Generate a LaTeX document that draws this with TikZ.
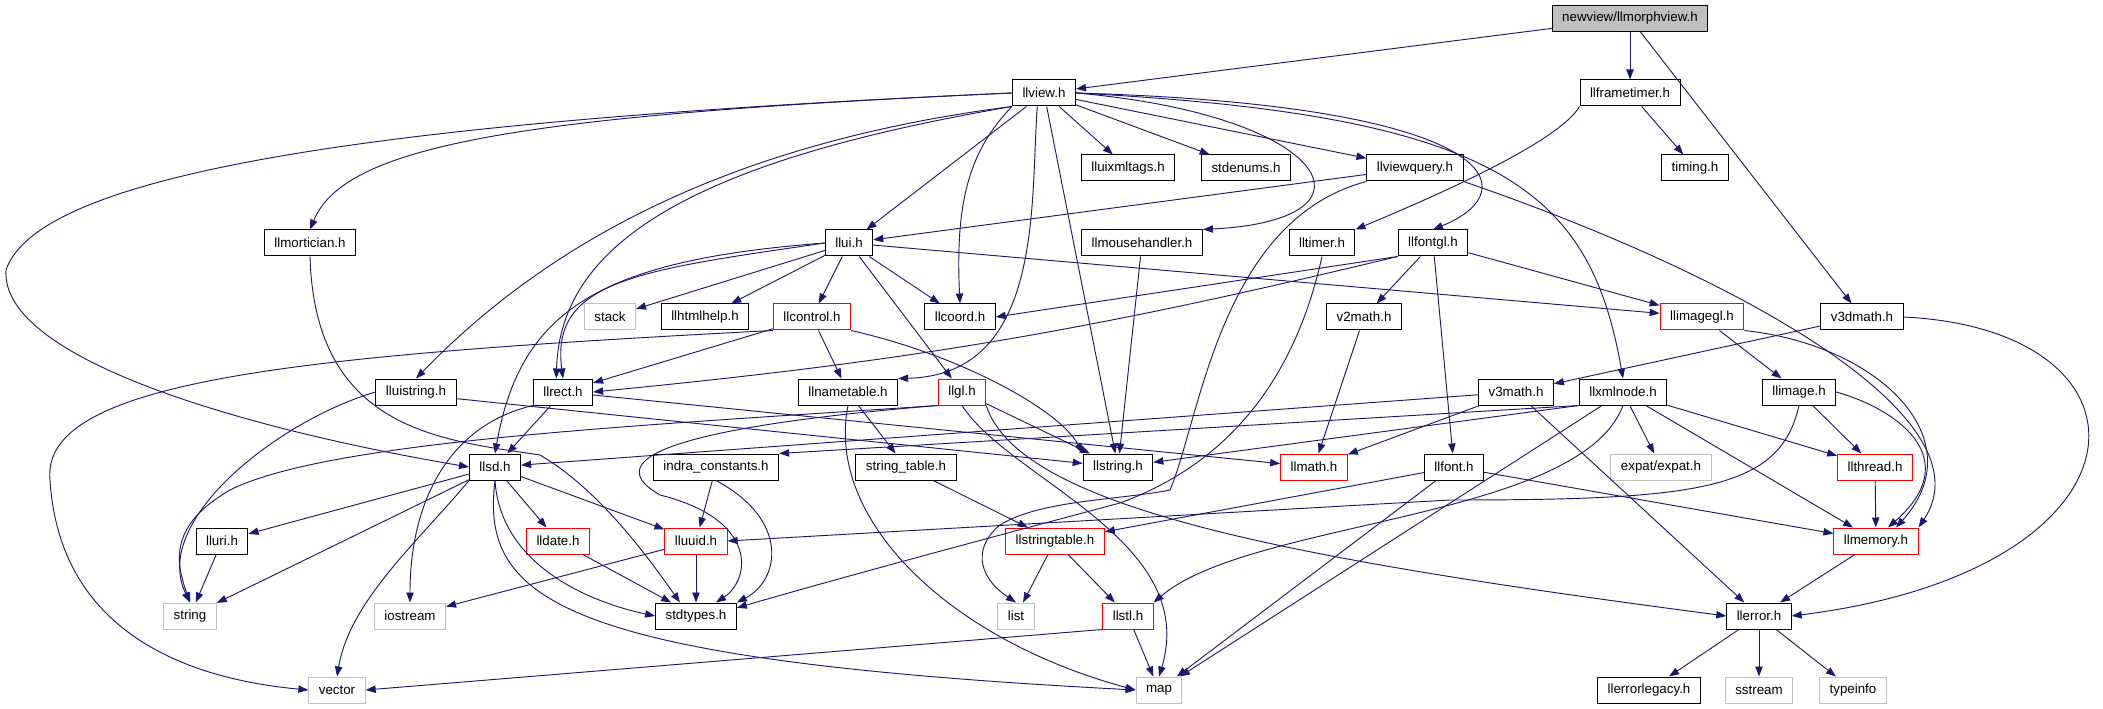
\documentclass[tikz,border=0pt]{standalone}
\usepackage{fontspec}
\setmainfont{Liberation Sans}
\usetikzlibrary{arrows.meta}
\definecolor{edgeblue}{HTML}{191970}
\definecolor{sysgray}{HTML}{BFBFBF}
\tikzset{
  hdr/.style={draw=black, line width=0.75pt, inner xsep=7.5pt, minimum height=19.5pt, font=\fontsize{10}{12}\selectfont},
  redhdr/.style={hdr, draw=red},
  syshdr/.style={hdr, draw=sysgray},
  roothdr/.style={hdr, fill=sysgray},
  dep/.style={draw=edgeblue, line width=0.7pt, -{Triangle[length=7.5pt,width=5.5pt]}}
}
\begin{document}
\begin{tikzpicture}[x=0.75pt, y=-0.75pt]
  \useasboundingbox (0,0) rectangle (2103,709);
  \node[roothdr] (morph) at (1630,18.5) {newview/llmorphview.h};
  \node[hdr] (view) at (1044,93) {llview.h};
  \node[hdr] (frametimer) at (1630,93) {llframetimer.h};
  \node[hdr] (uixmltags) at (1128,168) {lluixmltags.h};
  \node[hdr] (stdenums) at (1246,168) {stdenums.h};
  \node[hdr] (viewquery) at (1415,168) {llviewquery.h};
  \node[hdr] (timing) at (1695,168) {timing.h};
  \node[hdr] (mortician) at (310,243) {llmortician.h};
  \node[hdr] (ui) at (849,243) {llui.h};
  \node[hdr] (mousehandler) at (1142,243) {llmousehandler.h};
  \node[hdr] (timer) at (1322,243) {lltimer.h};
  \node[hdr] (fontgl) at (1433,243) {llfontgl.h};
  \node[syshdr] (stack) at (610,317) {stack};
  \node[hdr] (htmlhelp) at (705,317) {llhtmlhelp.h};
  \node[redhdr] (control) at (812,317) {llcontrol.h};
  \node[hdr] (coord) at (960,317) {llcoord.h};
  \node[hdr] (vtwomath) at (1364,317) {v2math.h};
  \node[redhdr] (imagegl) at (1702,317) {llimagegl.h};
  \node[hdr] (vthreedmath) at (1862,317) {v3dmath.h};
  \node[hdr] (uistring) at (416,392) {lluistring.h};
  \node[hdr] (rect) at (563,392) {llrect.h};
  \node[hdr] (nametable) at (848,392) {llnametable.h};
  \node[redhdr] (gl) at (962,392) {llgl.h};
  \node[hdr] (vthreemath) at (1516,392) {v3math.h};
  \node[hdr] (xmlnode) at (1623,392) {llxmlnode.h};
  \node[hdr] (image) at (1799,392) {llimage.h};
  \node[hdr] (sd) at (495,467) {llsd.h};
  \node[hdr] (indra) at (716,467) {indra\_constants.h};
  \node[hdr] (stringtab) at (906,467) {string\_table.h};
  \node[hdr] (string) at (1118,467) {llstring.h};
  \node[redhdr] (math) at (1314,467) {llmath.h};
  \node[hdr] (font) at (1454,467) {llfont.h};
  \node[syshdr] (expat) at (1661,467) {expat/expat.h};
  \node[redhdr] (thread) at (1875,467) {llthread.h};
  \node[hdr] (uri) at (222,541) {lluri.h};
  \node[redhdr] (date) at (558,541) {lldate.h};
  \node[redhdr] (uuid) at (696,541) {lluuid.h};
  \node[redhdr] (stringtable) at (1055,541) {llstringtable.h};
  \node[redhdr] (memory) at (1876,541) {llmemory.h};
  \node[syshdr] (stdstring) at (190,616) {string};
  \node[syshdr] (iostream) at (410,616) {iostream};
  \node[hdr] (stdtypes) at (696,616) {stdtypes.h};
  \node[syshdr] (list) at (1016,616) {list};
  \node[redhdr] (stl) at (1128,616) {llstl.h};
  \node[hdr] (error) at (1759,616) {llerror.h};
  \node[syshdr] (vector) at (337,690) {vector};
  \node[syshdr] (map) at (1159,690) {map};
  \node[hdr] (errorlegacy) at (1649,690) {llerrorlegacy.h};
  \node[syshdr] (sstream) at (1759,690) {sstream};
  \node[syshdr] (typeinfo) at (1853,690) {typeinfo};

  \foreach \a/\b in {morph/view, morph/frametimer, morph/vthreedmath, frametimer/timing,
    vthreedmath/vthreemath, view/ui, view/uixmltags, view/stdenums, view/viewquery, view/string,
    viewquery/ui, ui/stack, ui/htmlhelp, ui/control, ui/coord, ui/gl, ui/imagegl,
    mousehandler/string, fontgl/vtwomath, fontgl/font, fontgl/imagegl,
    control/nametable, control/rect, vtwomath/math, imagegl/image, rect/sd, rect/math,
    nametable/stringtab, gl/string, vthreemath/math, vthreemath/error, vthreemath/sd,
    xmlnode/expat, xmlnode/thread, xmlnode/memory, xmlnode/map, image/thread,
    sd/uri, sd/stdstring, sd/date, sd/uuid, indra/uuid, stringtab/stringtable,
    font/stringtable, font/map, font/memory, thread/memory, uri/stdstring, date/stdtypes,
    uuid/iostream, uuid/stdtypes, stringtable/list, stringtable/stl, memory/error, stl/map,
    error/errorlegacy, error/sstream, error/typeinfo,
    fontgl.south west/coord.east, xmlnode.south west/indra.north east,
    xmlnode.south west/string, stl.south west/vector.east}
    \draw[dep] (\a) -- (\b);

  \draw[dep] (fontgl.south west) to[bend left=4] (rect.east);
  \draw[dep] ([yshift=-5pt]uistring.east) -- (string);
  \draw[dep] (frametimer.south west) .. controls (1560,140) and (1450,190) .. (timer.north east);
  \draw[dep] (vthreedmath.east) .. controls (2170,330) and (2160,570) .. (error.east);
  \draw[dep] (view.west) .. controls (520,115) and (345,145) .. (mortician.north);
  \draw[dep] (view.west) .. controls (400,120) and (40,170) .. (6,270) .. controls (0,360) and (250,430) .. (sd.west);
  \draw[dep] (view.south west) .. controls (750,140) and (560,230) .. (uistring.north);
  \draw[dep] (view.south west) .. controls (700,160) and (560,240) .. ([xshift=-5pt]rect.north);
  \draw[dep] (view.south west) .. controls (970,150) and (955,200) .. (coord.north);
  \draw[dep] ([xshift=-5pt]view.south) .. controls (1030,200) and (1045,375) .. (nametable.north east);
  \draw[dep] (view.east) .. controls (1330,115) and (1390,220) .. (mousehandler.north east);
  \draw[dep] (view.east) .. controls (1500,105) and (1530,190) .. (fontgl.north);
  \draw[dep] (view.east) .. controls (1500,115) and (1590,190) .. (xmlnode.north);
  \draw[dep] (viewquery.south west) .. controls (1220,220) and (1200,420) .. (1170,490) .. controls (1120,500) and (1040,500) .. (1000,525) .. controls (975,545) and (975,575) .. (list.north);
  \draw[dep] (viewquery.south east) .. controls (1750,280) and (1990,420) .. (memory.north east);
  \draw[dep] (ui.west) .. controls (640,270) and (550,280) .. (rect.north);
  \draw[dep] (ui.west) .. controls (600,260) and (520,310) .. (sd.north);
  \draw[dep] (control.south west) .. controls (300,355) and (40,380) .. (50,480) .. controls (60,640) and (200,680) .. (vector.west);
  \draw[dep] (control.south east) .. controls (960,355) and (1060,410) .. (string.north west);
  \draw[dep] (uistring.west) .. controls (280,420) and (150,520) .. (stdstring.north);
  \draw[dep] (rect.south west) .. controls (450,425) and (410,500) .. (iostream.north);
  \draw[dep] (imagegl.south east) .. controls (1880,345) and (1975,440) .. ([xshift=15pt]memory.north);
  \draw[dep] (image.east) .. controls (1900,410) and (1965,460) .. ([xshift=9pt]memory.north);
  \draw[dep] (image.south) .. controls (1780,490) and (1700,500) .. (1450,500) -- (uuid.east);
  \draw[dep] (xmlnode.south) .. controls (1580,520) and (1250,520) .. (stl.north east);
  \draw[dep] (gl.south west) .. controls (700,425) and (590,455) .. (660,495) .. controls (760,520) and (750,580) .. ([xshift=15pt]stdtypes.north);
  \draw[dep] (gl.south west) .. controls (650,425) and (330,440) .. (230,490) .. controls (170,525) and (175,560) .. (stdstring.north);
  \draw[dep] (gl.south) .. controls (1010,480) and (1200,540) .. (map.north);
  \draw[dep] (gl.south east) .. controls (1020,510) and (1300,560) .. (error.west);
  \draw[dep] (nametable.south) .. controls (825,520) and (950,640) .. (map.west);
  \draw[dep] (sd.south west) .. controls (420,540) and (350,600) .. (vector.north);
  \draw[dep] (sd.south) .. controls (480,600) and (560,660) .. (map.west);
  \draw[dep] (sd.south) .. controls (500,560) and (580,600) .. (stdtypes.west);
  \draw[dep] (indra.south) .. controls (790,520) and (780,580) .. (stdtypes.north east);
  \draw[dep] (mortician.south) .. controls (315,430) and (440,440) .. (540,455) .. controls (600,490) and (650,560) .. ([xshift=-12pt]stdtypes.north);
  \draw[dep] (timer.south) .. controls (1290,400) and (1210,470) .. (1120,503) .. controls (1000,535) and (850,575) .. ([yshift=-4pt]stdtypes.north east);
\end{tikzpicture}
\end{document}
